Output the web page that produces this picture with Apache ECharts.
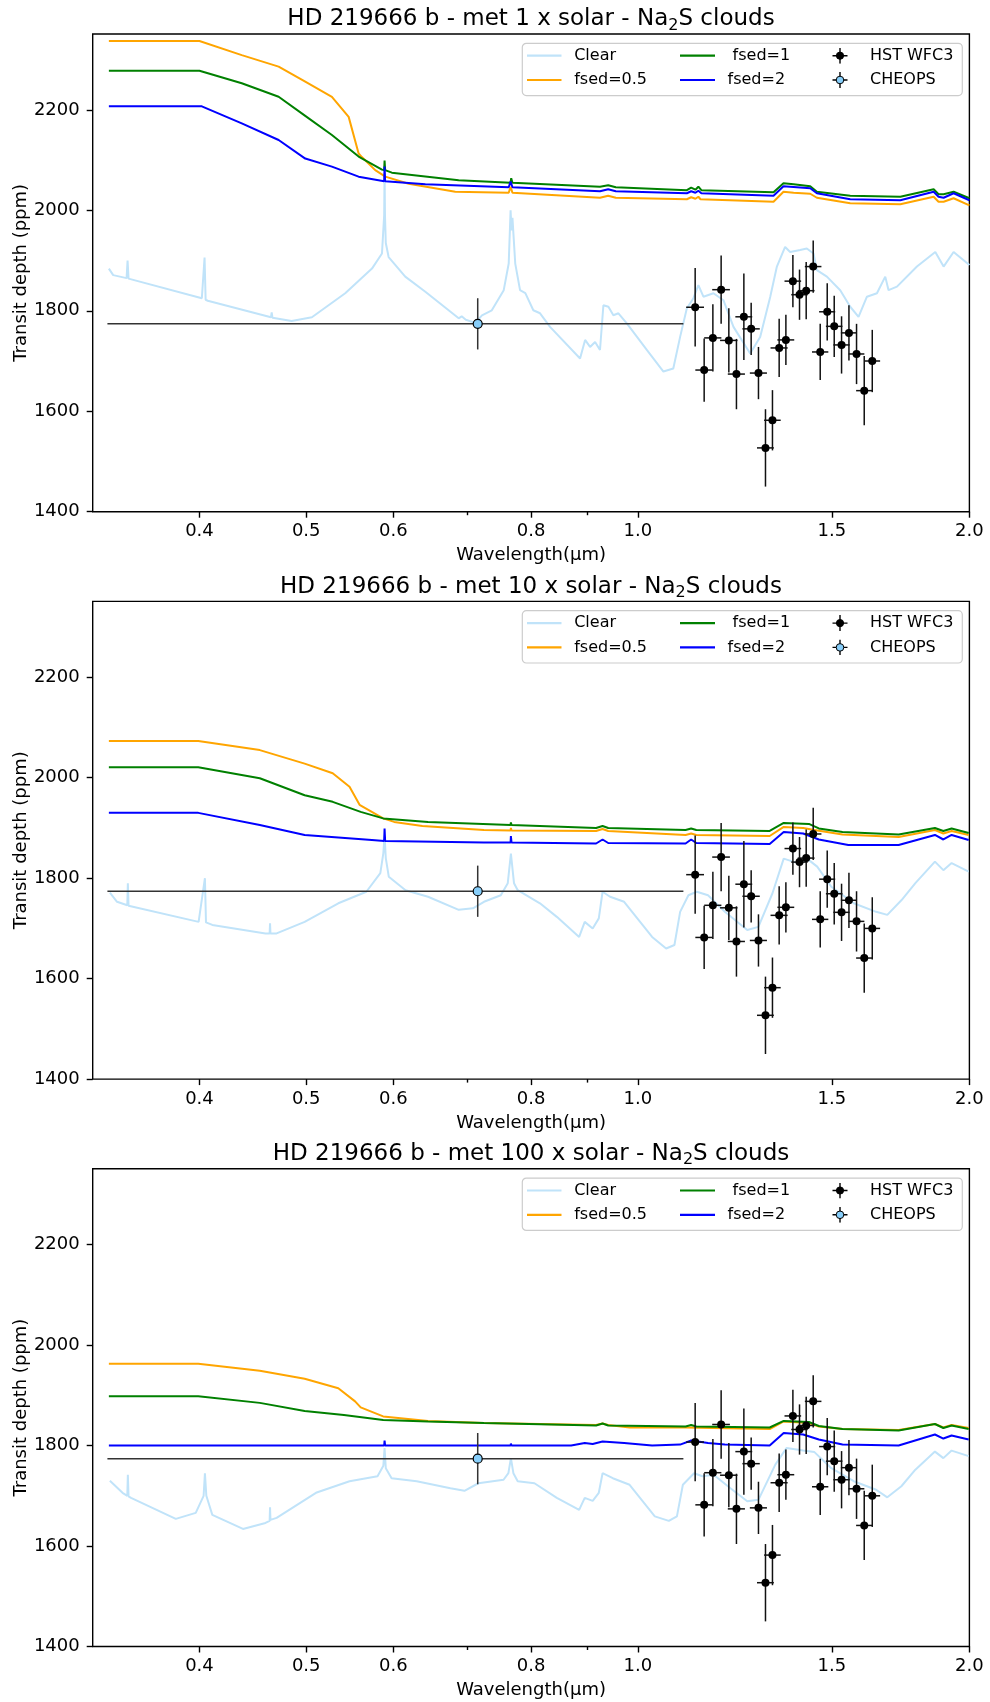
<!DOCTYPE html>
<html><head><meta charset="utf-8">
<script src="https://cdn.jsdelivr.net/npm/echarts@6/dist/echarts.min.js"></script>
<style>html,body{margin:0;padding:0;background:#fff}#c{width:990px;height:1702px}</style>
</head><body><div id="c"></div><script>
// ---------------- data (wavelength in micron, transit depth in ppm) ----------------
const panelTitles = ['HD 219666 b - met 1 x solar - Na{s|2}S clouds','HD 219666 b - met 10 x solar - Na{s|2}S clouds','HD 219666 b - met 100 x solar - Na{s|2}S clouds'];
const xTickLabels = [0.4, 0.5, 0.6, 0.8, 1.0, 1.5, 2.0];
const xMinorTicks = [0.7, 0.9];
const yTickLabels = [1400, 1600, 1800, 2000, 2200];

const clear1 = [[0.331,1884],[0.334,1871],[0.3435,1865],[0.3442,1900],[0.3449,1864],[0.402,1825],[0.4043,1906],[0.4052,1822],[0.407,1820],[0.4645,1787],[0.4652,1797],[0.466,1786],[0.485,1779.5],[0.506,1787],[0.5425,1835],[0.5737,1884],[0.5858,1914],[0.5885,1990],[0.589,2075],[0.5895,1990],[0.5905,1935],[0.594,1907],[0.615,1868],[0.6414,1838],[0.6877,1785],[0.692,1789],[0.698,1782],[0.7121,1776],[0.722,1791],[0.737,1801],[0.7556,1841],[0.7635,1894],[0.7665,2000],[0.768,1960],[0.7695,1985],[0.774,1894],[0.7818,1841],[0.7905,1835],[0.8038,1801],[0.8152,1795],[0.8324,1768],[0.8863,1705],[0.8957,1742],[0.905,1728],[0.9146,1738],[0.924,1722],[0.9306,1811],[0.9404,1808],[0.9502,1791],[0.9603,1795],[0.9773,1775],[1.019,1722],[1.055,1679],[1.077,1685],[1.0925,1748],[1.108,1805],[1.1233,1825],[1.135,1851],[1.147,1828],[1.1713,1835],[1.196,1821],[1.2214,1768],[1.2648,1715],[1.2915,1748],[1.319,1828],[1.3374,1888],[1.3606,1927],[1.375,1917],[1.404,1921],[1.4237,1924],[1.4438,1914],[1.454,1881],[1.4848,1868],[1.5267,1841],[1.559,1808],[1.5863,1788],[1.6144,1828],[1.6485,1835],[1.6774,1868],[1.689,1841],[1.719,1848],[1.7923,1888],[1.8624,1917],[1.895,1888],[1.935,1917],[2.0,1891]];
const fsed05_1 = [[0.331,2337],[0.40,2337],[0.437,2309],[0.472,2286],[0.499,2256],[0.5276,2226],[0.5464,2186],[0.5579,2113],[0.5617,2106],[0.5776,2080],[0.5899,2067],[0.6194,2053],[0.6828,2037],[0.7635,2035],[0.7665,2047],[0.7695,2035],[0.924,2025],[0.94,2029],[0.955,2025],[1.108,2022],[1.118,2026],[1.128,2023],[1.135,2027],[1.14,2022],[1.328,2017],[1.356,2037],[1.385,2035],[1.434,2033],[1.454,2025],[1.559,2014],[1.731,2012],[1.856,2027],[1.875,2017],[1.895,2017],[1.935,2024],[2.0,2010]];
const fsed1_1 = [[0.331,2278],[0.40,2278],[0.437,2253],[0.472,2226],[0.499,2188],[0.5276,2150],[0.5579,2107],[0.5858,2081],[0.5885,2080],[0.589,2099],[0.5897,2080],[0.598,2075],[0.6877,2060],[0.7665,2055],[0.7675,2064],[0.7695,2055],[0.924,2047],[0.94,2050],[0.955,2046],[1.108,2040],[1.118,2045],[1.128,2041],[1.135,2047],[1.142,2040],[1.328,2036],[1.356,2054],[1.385,2052],[1.434,2048],[1.454,2037],[1.559,2029],[1.731,2027],[1.856,2042],[1.875,2032],[1.895,2032],[1.935,2037],[2.0,2024]];
const fsed2_1 = [[0.331,2207],[0.402,2207],[0.437,2173],[0.472,2140],[0.499,2103],[0.5276,2087],[0.5579,2067],[0.5885,2058],[0.589,2087],[0.5897,2058],[0.6414,2052],[0.7635,2046],[0.7665,2057],[0.7695,2046],[0.924,2038],[0.94,2042],[0.955,2038],[1.108,2034],[1.118,2038],[1.128,2035],[1.135,2039],[1.142,2034],[1.328,2029],[1.356,2048],[1.434,2044],[1.454,2034],[1.559,2022],[1.731,2020],[1.856,2037],[1.875,2027],[1.895,2025],[1.935,2034],[2.0,2020]];

const clear2 = [[0.3317,1771],[0.3367,1753],[0.344,1746],[0.3444,1790],[0.3449,1745],[0.3993,1713],[0.4046,1800],[0.4055,1712],[0.4109,1707],[0.4592,1690],[0.4632,1690],[0.4636,1710],[0.464,1690],[0.47,1690],[0.4984,1713],[0.5347,1750],[0.567,1773],[0.5838,1810],[0.5875,1850],[0.589,1885],[0.5905,1840],[0.5942,1803],[0.6154,1776],[0.645,1763],[0.6878,1737],[0.7085,1740],[0.725,1753],[0.751,1766],[0.762,1790],[0.767,1849],[0.772,1790],[0.778,1776],[0.815,1750],[0.8443,1723],[0.8846,1683],[0.895,1713],[0.91,1700],[0.9217,1720],[0.929,1773],[0.9437,1763],[0.9718,1753],[1.0304,1683],[1.061,1660],[1.0796,1667],[1.0925,1733],[1.1116,1766],[1.1313,1773],[1.1581,1766],[1.1996,1733],[1.2571,1697],[1.2867,1703],[1.3251,1770],[1.3566,1839],[1.3969,1830],[1.43,1836],[1.455,1823],[1.4986,1783],[1.5705,1750],[1.6458,1733],[1.6846,1727],[1.7349,1756],[1.7864,1790],[1.861,1833],[1.894,1816],[1.927,1830],[1.997,1813]];
const fsed05_2 = [[0.331,2073],[0.399,2073],[0.4538,2055],[0.4984,2028],[0.5285,2009],[0.5474,1982],[0.559,1946],[0.5873,1919],[0.6009,1912],[0.6374,1904],[0.725,1896],[0.7665,1895],[0.767,1900],[0.768,1895],[0.9165,1894],[0.929,1898],[0.94,1894],[1.105,1886],[1.118,1889],[1.13,1886],[1.3174,1884],[1.3566,1902],[1.413,1900],[1.4466,1896],[1.534,1887],[1.725,1882],[1.861,1896],[1.894,1889],[1.927,1894],[1.997,1886]];
const fsed1_2 = [[0.331,2021],[0.399,2021],[0.4538,1999],[0.4984,1965],[0.5285,1952],[0.5603,1932],[0.5873,1919],[0.645,1912],[0.7665,1906],[0.767,1911],[0.768,1906],[0.9165,1900],[0.929,1904],[0.94,1900],[1.105,1896],[1.118,1899],[1.13,1896],[1.3174,1894],[1.3566,1910],[1.43,1908],[1.46,1899],[1.534,1892],[1.725,1887],[1.861,1900],[1.894,1894],[1.927,1899],[1.997,1890]];
const fsed2_2 = [[0.331,1930],[0.399,1930],[0.4538,1906],[0.4984,1886],[0.5736,1876],[0.5885,1874],[0.589,1899],[0.5897,1874],[0.725,1871],[0.7665,1871],[0.767,1884],[0.768,1871],[0.9165,1869],[0.929,1877],[0.94,1870],[1.105,1869],[1.118,1877],[1.13,1870],[1.3174,1868],[1.3566,1892],[1.413,1889],[1.46,1877],[1.5527,1866],[1.725,1866],[1.861,1886],[1.894,1877],[1.927,1886],[1.997,1876]];

const clear3 = [[0.3317,1730],[0.3406,1706],[0.344,1700],[0.3444,1742],[0.3449,1699],[0.3467,1696],[0.3807,1654],[0.3969,1666],[0.4035,1700],[0.4046,1745],[0.4058,1700],[0.4109,1662],[0.4381,1634],[0.4592,1646],[0.4632,1650],[0.4636,1677],[0.464,1652],[0.47,1656],[0.5103,1706],[0.5474,1729],[0.5804,1739],[0.5875,1760],[0.589,1795],[0.5905,1755],[0.5977,1735],[0.6299,1729],[0.6759,1715],[0.696,1710],[0.7166,1725],[0.7553,1732],[0.763,1745],[0.767,1775],[0.771,1745],[0.778,1729],[0.8057,1725],[0.8443,1696],[0.8846,1672],[0.895,1696],[0.91,1690],[0.9217,1706],[0.929,1745],[0.9491,1735],[0.983,1722],[1.0362,1659],[1.067,1650],[1.0852,1659],[1.0988,1722],[1.1248,1745],[1.1446,1739],[1.1717,1742],[1.2137,1715],[1.2571,1689],[1.2867,1692],[1.333,1762],[1.3645,1795],[1.413,1790],[1.4466,1787],[1.4986,1755],[1.5705,1729],[1.6458,1712],[1.6846,1697],[1.7349,1719],[1.7864,1752],[1.861,1788],[1.894,1775],[1.927,1790],[1.997,1779]];
const fsed05_3 = [[0.331,1963],[0.399,1963],[0.4538,1949],[0.4984,1933],[0.5347,1914],[0.5538,1888],[0.5603,1876],[0.5873,1858],[0.645,1849],[0.725,1845],[0.9165,1841],[0.929,1844],[0.94,1841],[0.983,1836],[1.105,1836],[1.3174,1833],[1.3566,1848],[1.43,1845],[1.46,1838],[1.534,1833],[1.725,1831],[1.861,1843],[1.894,1836],[1.927,1841],[1.997,1835]];
const fsed1_3 = [[0.331,1898],[0.399,1898],[0.4538,1885],[0.4984,1869],[0.541,1861],[0.5873,1851],[0.645,1848],[0.725,1845],[0.9165,1840],[0.929,1844],[0.94,1840],[1.105,1838],[1.118,1841],[1.13,1838],[1.3174,1836],[1.3566,1849],[1.43,1847],[1.46,1839],[1.534,1833],[1.725,1830],[1.861,1843],[1.894,1835],[1.927,1840],[1.997,1833]];
const fsed2_3 = [[0.331,1800],[0.5885,1800],[0.589,1810],[0.5897,1800],[0.7665,1800],[0.767,1804],[0.768,1800],[0.87,1800],[0.895,1805],[0.91,1803],[0.929,1808],[0.9718,1805],[1.0304,1800],[1.0925,1802],[1.1182,1810],[1.1581,1805],[1.1996,1802],[1.3174,1800],[1.3566,1825],[1.413,1822],[1.46,1812],[1.534,1802],[1.725,1800],[1.861,1822],[1.894,1814],[1.927,1820],[1.997,1812]];

const hstWave  = [1.1274,1.1488,1.1699,1.1903,1.2096,1.229,1.2482,1.2674,1.2869,1.3059,1.3251,1.3438,1.3628,1.3829,1.4022,1.4219,1.4429,1.4642,1.4858,1.5077,1.531,1.5548,1.5797,1.6053,1.6325];
const hstDepth = [1807,1682,1746,1842,1741,1674,1788,1764,1676,1527,1582,1726,1742,1859,1832,1840,1888,1718,1798,1769,1732,1756,1714,1641,1700];
const hstErrY  = [78,63,67,68,64,70,86,52,52,77,60,58,50,52,50,57,52,56,57,61,57,55,60,69,62];
const hstErrX  = [0.021,0.021,0.021,0.022,0.022,0.022,0.022,0.023,0.023,0.023,0.023,0.024,0.024,0.024,0.024,0.025,0.025,0.025,0.025,0.026,0.026,0.026,0.026,0.027,0.027];
const cheopsWave = [0.7156];
const cheopsDepth = [1774];
const cheopsErrY = [51];
const cheopsBandLo = [0.330];
const cheopsBandHi = [1.100];

// ---------------- layout ----------------
const FONT = 'DejaVu Sans';
const gridTops = [34, 601.4, 1168.8];
const gridH = 477.7, gridLeft = 92.7, gridW = 876.7;
const panelStep = 567.4;
const curves = [[clear1,fsed05_1,fsed1_1,fsed2_1],[clear2,fsed05_2,fsed1_2,fsed2_2],[clear3,fsed05_3,fsed1_3,fsed2_3]];
const curveNames = ['Clear','fsed=0.5',' fsed=1','fsed=2'];
const curveColors = ['#c0e3f9','#ffa500','#008000','#0000ff'];

function enc(s){ return 'image://data:image/svg+xml;charset=utf-8,' + encodeURIComponent(s); }
function errIcon(fill){
  return enc('<svg xmlns="http://www.w3.org/2000/svg" width="35" height="16" viewBox="0 0 35 16">'+
    '<line x1="10" y1="8" x2="25" y2="8" stroke="#000" stroke-width="1.4"/>'+
    '<line x1="17.5" y1="0" x2="17.5" y2="16" stroke="#000" stroke-width="1.4"/>'+
    '<circle cx="17.5" cy="8" r="'+(fill==='#000'?3.6:3.8)+'" fill="'+fill+'" stroke="#000" stroke-width="1"/></svg>');
}
function lineIcon(color){
  return enc('<svg xmlns="http://www.w3.org/2000/svg" width="35" height="16" viewBox="0 0 35 16">'+
    '<line x1="0" y1="8" x2="35" y2="8" stroke="'+color+'" stroke-width="2.2"/></svg>');
}
const hstIcon = errIcon('#000');
const cheopsIcon = errIcon('#87cefa');

const hstErrData = hstWave.map((w,i)=>[w, hstDepth[i], w-hstErrX[i], w+hstErrX[i], hstDepth[i]-hstErrY[i], hstDepth[i]+hstErrY[i]]);
const cheopsErrData = cheopsWave.map((w,i)=>[w, cheopsDepth[i], cheopsBandLo[i], cheopsBandHi[i], cheopsDepth[i]-cheopsErrY[i], cheopsDepth[i]+cheopsErrY[i]]);

function errRender(color){
  return function(params, api){
    const x = api.value(0), y = api.value(1);
    const a = api.coord([api.value(2), y]), b = api.coord([api.value(3), y]);
    const c = api.coord([x, api.value(4)]), d = api.coord([x, api.value(5)]);
    const st = {stroke: color, lineWidth: 1.5};
    return {type:'group', children:[
      {type:'line', shape:{x1:a[0],y1:a[1],x2:b[0],y2:b[1]}, style: st},
      {type:'line', shape:{x1:c[0],y1:c[1],x2:d[0],y2:d[1]}, style: st}
    ]};
  };
}

const grid=[], xAxis=[], yAxis=[], series=[], title=[], legend=[], graphic=[];
const tickStyle = {color:'#000', width:1.4};
for (let p=0;p<3;p++){
  const off = p*panelStep;
  grid.push({left:gridLeft, top:gridTops[p], width:gridW, height:gridH, show:true, borderColor:'#000', borderWidth:1.4,
    backgroundColor:'transparent', containLabel:false, outerBoundsMode:'none'});
  xAxis.push({type:'log', gridIndex:p, min:0.32, max:2.0, position:'bottom',
    name:'Wavelength(µm)', nameLocation:'middle', nameGap:35, nameMoveOverlap:false,
    nameTextStyle:{fontFamily:FONT, fontSize:18, color:'#000'},
    axisLine:{show:false}, splitLine:{show:false}, minorTick:{show:false},
    axisTick:{show:true, length:6, inside:false, lineStyle:tickStyle, customValues:xTickLabels},
    axisLabel:{show:true, customValues:xTickLabels, margin:11, hideOverlap:false, fontFamily:FONT, fontSize:18, color:'#000', formatter:v=>Number(v).toFixed(1)}
  });
  xAxis.push({type:'log', gridIndex:p, min:0.32, max:2.0, position:'bottom',
    axisLine:{show:false}, splitLine:{show:false}, axisLabel:{show:false},
    axisTick:{show:true, length:3.5, inside:false, lineStyle:tickStyle, customValues:xMinorTicks}
  });
  yAxis.push({type:'value', gridIndex:p, min:1400, max:2351,
    name:'Transit depth (ppm)', nameLocation:'middle', nameGap:62, nameMoveOverlap:false,
    nameTextStyle:{fontFamily:FONT, fontSize:18, color:'#000'},
    axisLine:{show:false}, splitLine:{show:false},
    axisTick:{show:true, length:6, inside:false, lineStyle:tickStyle, customValues:yTickLabels},
    axisLabel:{show:true, customValues:yTickLabels, margin:13, fontFamily:FONT, fontSize:18, color:'#000', formatter:v=>String(v)}
  });
  title.push({text:panelTitles[p], left:531, top:5.5+off, textAlign:'center', padding:0,
    textStyle:{fontFamily:FONT, fontSize:23, fontWeight:'normal', color:'#000', lineHeight:28,
      rich:{s:{fontFamily:FONT, fontSize:16, color:'#000', lineHeight:16, verticalAlign:'bottom'}}}});
  for (let k=0;k<4;k++){
    series.push({type:'line', name:curveNames[k], xAxisIndex:2*p, yAxisIndex:p, data:curves[p][k],
      symbol:'none', showSymbol:false, lineStyle:{color:curveColors[k], width:2}, itemStyle:{color:curveColors[k]},
      z:2+k*0.01, animation:false, silent:true});
  }
  series.push({type:'custom', name:'HST WFC3 errorbars', xAxisIndex:2*p, yAxisIndex:p, data:hstErrData,
    renderItem:errRender('#111'), encode:{x:0, y:1}, z:5, silent:true, animation:false});
  series.push({type:'scatter', name:'HST WFC3', xAxisIndex:2*p, yAxisIndex:p, data:hstWave.map((w,i)=>[w,hstDepth[i]]),
    symbol:'circle', symbolSize:8, itemStyle:{color:'#000', opacity:1}, z:6, silent:true, animation:false});
  series.push({type:'custom', name:'CHEOPS errorbars', xAxisIndex:2*p, yAxisIndex:p, data:cheopsErrData,
    renderItem:errRender('#333'), encode:{x:0, y:1}, z:5, silent:true, animation:false});
  series.push({type:'scatter', name:'CHEOPS', xAxisIndex:2*p, yAxisIndex:p, data:cheopsWave.map((w,i)=>[w,cheopsDepth[i]]),
    symbol:'circle', symbolSize:9, itemStyle:{color:'#87cefa', borderColor:'#000', borderWidth:1.2, opacity:1}, z:6, silent:true, animation:false});

  const lgBase = {orient:'vertical', top:47.7+off, itemWidth:35, itemHeight:16, itemGap:8.3, padding:0, selectedMode:false, z:10,
    textStyle:{fontFamily:FONT, fontSize:16, color:'#000', lineHeight:16, padding:[0,0,0,7.5]}};
  legend.push(Object.assign({}, lgBase, {left:526.7, data:[{name:'Clear', icon:lineIcon(curveColors[0])},{name:'fsed=0.5', icon:lineIcon(curveColors[1])}]}));
  legend.push(Object.assign({}, lgBase, {left:680, data:[{name:' fsed=1', icon:lineIcon(curveColors[2])},{name:'fsed=2', icon:lineIcon(curveColors[3])}]}));
  legend.push(Object.assign({}, lgBase, {left:822.5, data:[{name:'HST WFC3', icon:hstIcon},{name:'CHEOPS', icon:cheopsIcon}]}));
  graphic.push({type:'rect', left:521.7, top:42.7+off, z:8,
    shape:{width:440, height:52.3, r:4}, style:{fill:'rgba(255,255,255,0.8)', stroke:'#cccccc', lineWidth:1.2}});
}

const chart = echarts.init(document.getElementById('c'), null, {renderer:'canvas'});
chart.setOption({animation:false, backgroundColor:'#fff', title, legend, grid, xAxis, yAxis, series, graphic});
</script></body></html>
